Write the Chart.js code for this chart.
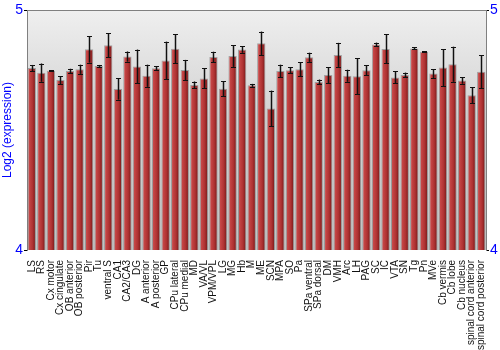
<!DOCTYPE html>
<html>
<head>
<meta charset="utf-8">
<script src="https://cdn.jsdelivr.net/npm/chart.js@4"></script>
<style>
html, body { margin: 0; padding: 0; background: #fff; }
#wrap { width: 500px; height: 350px; }
</style>
</head>
<body>
<div id="wrap"><canvas id="barChart" width="500" height="350"></canvas></div>
<script>
const regions = ["LS","RS","Cx motor","Cx cingulate","OB anterior","OB posterior","Pir","Tu","ventral S","CA1","CA2/CA3","DG","A anterior","A posterior","GP","CPu lateral","CPu medial","MD","VA/VL","VPM/VPL","LG","MG","Hb","M","ME","SCN","MPA","SO","Pa","SPa ventral","SPa dorsal","DM","VMH","Arc","LH","PAG","SC","IC","VTA","SN","Tg","Pn","MVe","Cb vermis","Cb lobe","Cb nucleus","spinal cord anterior","spinal cord posterior"];

const expression = [4.758,4.739,4.747,4.708,4.746,4.753,4.836,4.767,4.853,4.671,4.806,4.765,4.726,4.757,4.790,4.839,4.750,4.688,4.715,4.804,4.672,4.808,4.835,4.686,4.861,4.590,4.746,4.749,4.753,4.803,4.700,4.729,4.813,4.726,4.724,4.749,4.856,4.838,4.719,4.729,4.840,4.826,4.735,4.760,4.774,4.706,4.645,4.743];

const errors = [0.013,0.038,0.002,0.017,0.009,0.019,0.055,0.004,0.050,0.044,0.021,0.070,0.046,0.008,0.078,0.061,0.042,0.014,0.042,0.022,0.031,0.045,0.013,0.006,0.049,0.074,0.026,0.012,0.029,0.019,0.010,0.033,0.050,0.025,0.075,0.021,0.008,0.060,0.025,0.010,0.004,0.003,0.018,0.077,0.073,0.013,0.033,0.069];

const yTicks = [4, 5];

const blue = "#0000ff";

// grey gradient behind the bars
const plotBackground = {
  id: "plotBackground",
  beforeDraw(chart) {
    const { ctx, chartArea: a } = chart;
    const g = ctx.createLinearGradient(0, a.top, 0, a.bottom);
    g.addColorStop(0, "#efefef");
    g.addColorStop(0.45, "#d2d2d2");
    g.addColorStop(1, "#c2c2c2");
    ctx.save();
    ctx.fillStyle = g;
    ctx.fillRect(a.left, a.top, a.right - a.left, a.bottom - a.top);
    ctx.strokeStyle = "#808080";
    ctx.lineWidth = 1;
    ctx.beginPath();
    ctx.moveTo(a.left, a.top + 0.5);
    ctx.lineTo(a.right, a.top + 0.5);
    ctx.stroke();
    ctx.restore();
  }
};

// error bars on top of each bar
const errorBars = {
  id: "errorBars",
  afterDatasetsDraw(chart) {
    const { ctx } = chart;
    const x = chart.scales.x, y = chart.scales.y;
    ctx.save();
    expression.forEach((v, i) => {
      const cx = Math.round(x.getPixelForValue(i)) + 0.5;
      const top = y.getPixelForValue(v + errors[i]);
      const bot = y.getPixelForValue(v - errors[i]);
      ctx.strokeStyle = "rgba(0,0,0,0.3)";
      ctx.lineWidth = 2.5;
      ctx.beginPath();
      ctx.moveTo(cx, top); ctx.lineTo(cx, bot);
      ctx.stroke();
      ctx.strokeStyle = "#111";
      ctx.lineWidth = 1;
      ctx.beginPath();
      ctx.moveTo(cx, top); ctx.lineTo(cx, bot);
      ctx.moveTo(cx - 2.5, Math.round(top) + 0.5); ctx.lineTo(cx + 2.5, Math.round(top) + 0.5);
      ctx.moveTo(cx - 2.5, Math.round(bot) + 0.5); ctx.lineTo(cx + 2.5, Math.round(bot) + 0.5);
      ctx.stroke();
    });
    ctx.restore();
  }
};

function barFill(context) {
  const chart = context.chart;
  const xs = chart.scales.x;
  if (!xs || !chart.chartArea) return "#b03030";
  const step = (xs.right - xs.left) / regions.length;
  const w = step * 0.87;
  const cx = xs.getPixelForValue(context.dataIndex);
  const g = chart.ctx.createLinearGradient(cx - w / 2, 0, cx + w / 2, 0);
  g.addColorStop(0, "#d86c6c");
  g.addColorStop(0.2, "#c64646");
  g.addColorStop(0.6, "#ae3232");
  g.addColorStop(1, "#701616");
  return g;
}

new Chart(document.getElementById("barChart"), {
  type: "bar",
  data: {
    labels: regions,
    datasets: [{
      label: "Log2 (expression)",
      data: expression,
      backgroundColor: barFill,
      borderColor: "rgba(120,120,120,0.6)",
      borderWidth: 1,
      barPercentage: 0.87,
      categoryPercentage: 1
    }]
  },
  options: {
    responsive: false,
    animation: false,
    layout: { padding: { top: 10, left: 0, right: 0, bottom: 0 } },
    plugins: {
      legend: { display: false },
      tooltip: { enabled: false }
    },
    scales: {
      x: {
        grid: { display: false },
        border: { display: false },
        ticks: {
          autoSkip: false,
          maxRotation: 90,
          minRotation: 90,
          padding: 2,
          color: "#111",
          font: { family: "Liberation Sans", size: 10 }
        },
        afterFit(scale) { scale.height = 100; }
      },
      y: {
        min: 4,
        max: 5,
        position: "left",
        afterBuildTicks(scale) { scale.ticks = yTicks.map(v => ({ value: v })); },
        grid: { drawOnChartArea: false, tickLength: 3, color: "#000" },
        border: { color: "#808080" },
        ticks: {
          color: blue,
          padding: 1,
          font: { family: "Liberation Sans", size: 14 }
        },
        title: {
          display: true,
          text: "Log2 (expression)",
          color: blue,
          padding: 0,
          font: { family: "Liberation Sans", size: 12 }
        },
        afterFit(scale) { scale.width = 27; }
      },
      y2: {
        min: 4,
        max: 5,
        position: "right",
        afterBuildTicks(scale) { scale.ticks = yTicks.map(v => ({ value: v })); },
        grid: { drawOnChartArea: false, tickLength: 3, color: "#000" },
        border: { color: "#808080" },
        ticks: {
          color: blue,
          padding: 1,
          font: { family: "Liberation Sans", size: 14 }
        },
        afterFit(scale) { scale.width = 14; }
      }
    }
  },
  plugins: [plotBackground, errorBars]
});
</script>
</body>
</html>
